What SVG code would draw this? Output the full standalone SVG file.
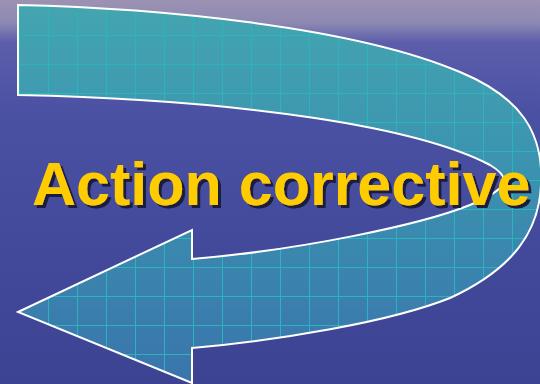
<svg xmlns="http://www.w3.org/2000/svg" width="540" height="384" viewBox="0 0 540 384">
  <defs>
    <linearGradient id="bg" x1="0" y1="0" x2="0" y2="1">
      <stop offset="0" stop-color="#9c93b3"/>
      <stop offset="0.06" stop-color="#8d88b2"/>
      <stop offset="0.11" stop-color="#5c5eab"/>
      <stop offset="0.3" stop-color="#4a50a2"/>
      <stop offset="1" stop-color="#3d4393"/>
    </linearGradient>
    <linearGradient id="fillg" gradientUnits="userSpaceOnUse" x1="0" y1="0" x2="0" y2="384">
      <stop offset="0" stop-color="#44a6b0"/>
      <stop offset="0.45" stop-color="#3b92b0"/>
      <stop offset="1" stop-color="#3a74ac"/>
    </linearGradient>
    <pattern id="grid" patternUnits="userSpaceOnUse" x="19" y="6" width="29" height="29">
      <path d="M0.5,0 V29 M0,0.5 H29" stroke="#2cb4be" stroke-width="1" fill="none"/>
    </pattern>
    <filter id="shadow" x="-5%" y="-20%" width="110%" height="140%">
      <feOffset in="SourceAlpha" dx="2.5" dy="2.5" result="off"/>
      <feFlood flood-color="#1a1a3c"/>
      <feComposite in2="off" operator="in" result="sh"/>
      <feMerge>
        <feMergeNode in="sh"/>
        <feMergeNode in="SourceGraphic"/>
      </feMerge>
    </filter>
    <style>
      .shape { stroke: #ffffff; stroke-width: 2; stroke-linejoin: miter; }
      .label { font-family: "Liberation Sans", Arial, sans-serif; font-weight: bold; font-size: 61px; fill: #ffcc00; }
    </style>
  </defs>
  <rect x="0" y="0" width="540" height="384" fill="url(#bg)"/>
  <g id="arrow">
    <path d="M18,5 C150,8 350,25 460,72 C520,97 544,132 541,185 C539,230 515,268 450,298 C390,322 280,340 192,348 L192,383 L18,312 L192,230 L192,259 C300,250 420,225 470,205 C510,188 512,178 490,165 C420,128 250,100 18,95 Z" fill="url(#fillg)"/>
    <path d="M18,5 C150,8 350,25 460,72 C520,97 544,132 541,185 C539,230 515,268 450,298 C390,322 280,340 192,348 L192,383 L18,312 L192,230 L192,259 C300,250 420,225 470,205 C510,188 512,178 490,165 C420,128 250,100 18,95 Z" fill="url(#grid)" class="shape"/>
  </g>
  <g id="title">
    <text class="label" x="32" y="205" filter="url(#shadow)">Action corrective</text>
  </g>
</svg>
